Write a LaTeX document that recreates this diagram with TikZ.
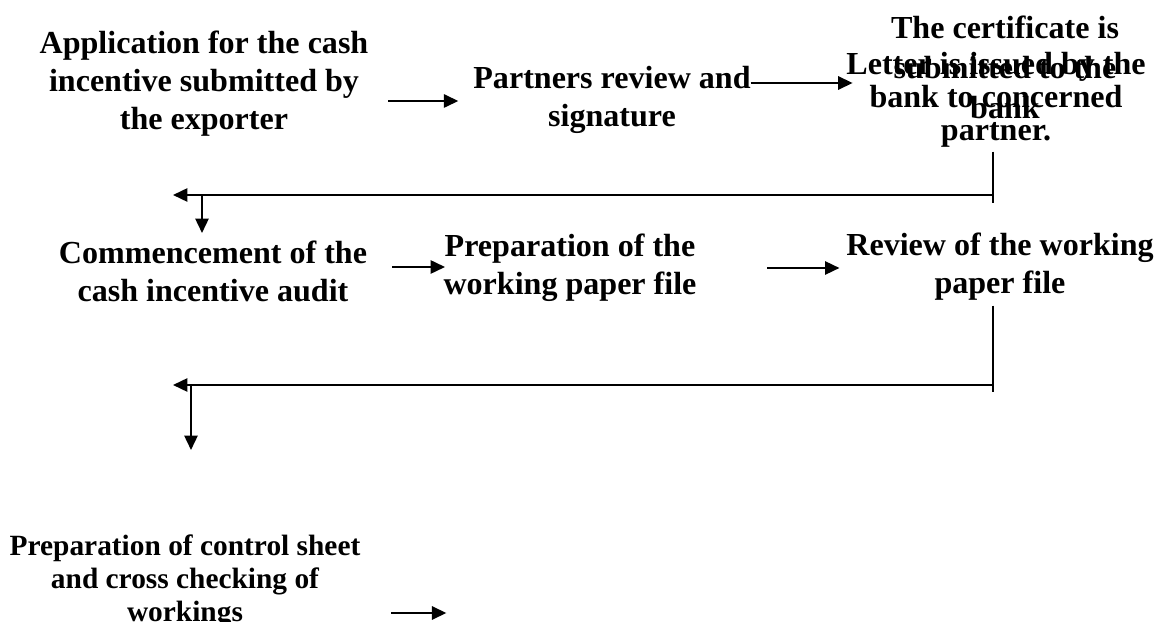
\documentclass[tikz,border=0pt]{standalone}
\usepackage{fontspec}
\setmainfont{Liberation Serif}
\usepackage{tikz}
\usetikzlibrary{arrows.meta,positioning}

\begin{document}
\begin{tikzpicture}[x=0.025cm,y=-0.025cm,>={Triangle[length=0.36cm,width=0.33cm]},line width=1.5pt]
\tikzstyle{stage} = [align=center,inner sep=0pt,outer sep=0pt,font=\bfseries\fontsize{22.8}{27}\selectfont]
\tikzstyle{stagetight} = [stage,font=\bfseries\fontsize{22.8}{23.5}\selectfont]
\tikzstyle{stageloose} = [stage,font=\bfseries\fontsize{22.8}{28.5}\selectfont]
\tikzstyle{stagesmall} = [stage,font=\bfseries\fontsize{20.9}{23.5}\selectfont]
\tikzstyle{flow} = [->]
    \useasboundingbox (0,0) rectangle (1159,622);
    % first row
    \node[stage] (app) at (204,84) {Application for the cash\\incentive submitted by\\the exporter};
    \node[stage] (partners) at (612,100) {Partners review and\\signature};
    \node[stageloose] (cert) at (1005,67) {The certificate is\\submitted to the\\bank};
    \node[stagetight] (letter) at (996,100) {Letter is issued by the\\bank to concerned\\partner.};
    % second row
    \node[stage] (comm) at (213,271) {Commencement of the\\cash incentive audit};
    \node[stage] (prepwp) at (570,268) {Preparation of the\\working paper file};
    \node[stage] (review) at (1000,267) {Review of the working\\paper file};
    % third row
    \node[stagesmall] (control) at (185,581) {Preparation of control sheet\\and cross checking of\\workings};

    \coordinate (turn1) at (993,195);
    \coordinate (turn2) at (993,385);

    \draw[flow] (app.east) ++(20,17) -- ++(70,0);
    \draw[flow] (partners.east) ++(0,-17) -- ++(102,0);
    \draw (letter.south) ++(-3,4) -- ++(0,51);
    \draw[flow] (turn1) -- ++(-820,0);
    \draw[flow] (turn1) ++(-791,0) -- ++(0,38);
    \draw[flow] (comm.east) ++(25,-4) -- ++(53,0);
    \draw[flow] (prepwp.east) ++(71,0) -- ++(72,0);
    \draw (review.south) ++(-7,5) -- ++(0,86);
    \draw[flow] (turn2) -- ++(-820,0);
    \draw[flow] (turn2) ++(-802,0) -- ++(0,65);
    \draw[flow] (control.east) ++(31,32) -- ++(55,0);
\end{tikzpicture}
\end{document}
